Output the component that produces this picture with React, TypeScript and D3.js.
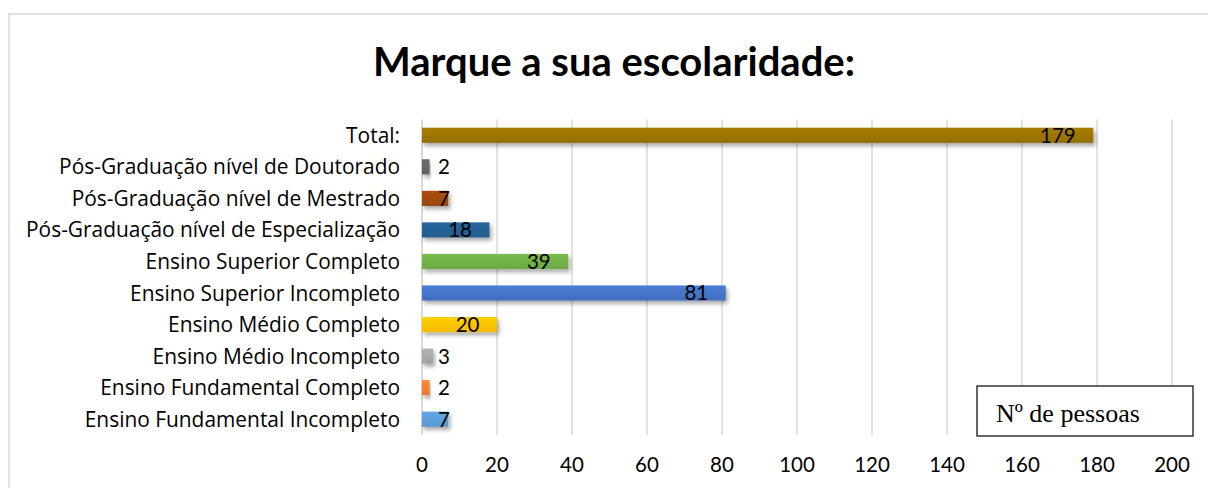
import React from "react";
import * as d3 from "d3";

const categories = [
  "Total:",
  "Pós-Graduação nível de Doutorado",
  "Pós-Graduação nível de Mestrado",
  "Pós-Graduação nível de Especialização",
  "Ensino Superior Completo",
  "Ensino Superior Incompleto",
  "Ensino Médio Completo",
  "Ensino Médio Incompleto",
  "Ensino Fundamental Completo",
  "Ensino Fundamental Incompleto",
];
const values = [179, 2, 7, 18, 39, 81, 20, 3, 2, 7];
const colors = [
  "#997300",
  "#636363",
  "#9e480e",
  "#255e91",
  "#70ad47",
  "#4472c4",
  "#ffc000",
  "#a5a5a5",
  "#ed7d31",
  "#5b9bd5",
];
const xTicks = [0, 20, 40, 60, 80, 100, 120, 140, 160, 180, 200];

const W = 1208;
const H = 488;
const titleFont = "Lato, 'Open Sans', sans-serif";
const font = "'Open Sans', Lato, sans-serif";

export default function App() {
  const x = d3.scaleLinear().domain([0, 200]).range([422, 1172]);
  const y = d3
    .scaleBand<string>()
    .domain(categories)
    .range([119.5, 435])
    .paddingInner(0.52)
    .paddingOuter(0.26);
  const bh = y.bandwidth();

  return (
    <svg
      width={W}
      height={H}
      style={{ position: "absolute", left: 0, top: 0, background: "#fff" }}
    >
      <defs>
        <filter id="sh" x="-10%" y="-50%" width="130%" height="250%">
          <feDropShadow dx="2" dy="3" stdDeviation="2" floodColor="#000" floodOpacity="0.35" />
        </filter>
        {colors.map((c, i) => (
          <linearGradient key={i} id={`g${i}`} x1="0" y1="0" x2="0" y2="1">
            <stop offset="0" stopColor={d3.color(c)!.brighter(0.25).formatHex()} />
            <stop offset="1" stopColor={d3.color(c)!.darker(0.1).formatHex()} />
          </linearGradient>
        ))}
      </defs>

      <rect x={9} y={14} width={1230} height={500} fill="none" stroke="#d9d9d9" strokeWidth={1.5} />

      <text
        x={614}
        y={76}
        textAnchor="middle"
        fontFamily={titleFont}
        fontWeight="bold"
        fontSize={40}
        fill="#000"
      >
        Marque a sua escolaridade:
      </text>

      {/* gridlines */}
      {xTicks.map((t) => (
        <line
          key={t}
          x1={x(t)}
          x2={x(t)}
          y1={119.5}
          y2={435}
          stroke="#d9d9d9"
          strokeWidth={t === 0 ? 2 : 1.5}
        />
      ))}

      {/* bars */}
      {categories.map((c, i) => (
        <rect
          key={c}
          x={x(0)}
          y={y(c)}
          width={x(values[i]) - x(0)}
          height={bh}
          fill={`url(#g${i})`}
          filter="url(#sh)"
        />
      ))}

      {/* value labels */}
      {categories.map((c, i) => (
        <text
          key={c}
          x={Math.max(x(values[i]) - 17.5, 450)}
          y={(y(c) ?? 0) + bh / 2}
          dy="0.36em"
          textAnchor="end"
          fontFamily={titleFont}
          fontSize={20.5}
          fill="#000"
        >
          {values[i]}
        </text>
      ))}

      {/* category labels */}
      {categories.map((c) => (
        <text
          key={c}
          x={400}
          y={(y(c) ?? 0) + bh / 2}
          dy="0.36em"
          textAnchor="end"
          fontFamily={font}
          fontSize={20.9}
          fill="#000"
        >
          {c}
        </text>
      ))}

      {/* x tick labels */}
      {xTicks.map((t) => (
        <text
          key={t}
          x={x(t)}
          y={465}
          dy="0.36em"
          textAnchor="middle"
          fontFamily={titleFont}
          fontSize={20.5}
          fill="#000"
        >
          {t}
        </text>
      ))}

      {/* legend box */}
      <rect x={977} y={386} width={216} height={50} fill="#fff" stroke="#000" strokeWidth={1.2} />
      <text x={996} y={422} fontFamily="'Liberation Serif', 'DejaVu Serif', serif" fontSize={26} fill="#000">
        Nº de pessoas
      </text>
    </svg>
  );
}
